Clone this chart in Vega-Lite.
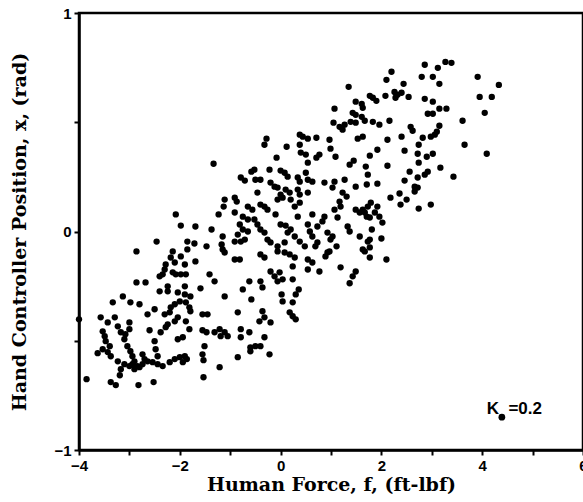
{
"$schema":"https://vega.github.io/schema/vega-lite/v6.json",
"width":504,"height":437,
"autosize":{"type":"none"},
"padding":{"left":79,"top":13,"right":0,"bottom":52},
"background":"white",
"config":{"view":{"stroke":"black","strokeWidth":2.5},
"axis":{"domainColor":"black","domainWidth":2.5,"tickColor":"black","tickWidth":2,"tickSize":5,"grid":false,"labelFont":"Liberation Sans","labelFontWeight":"bold","labelFontSize":15,"labelColor":"black","labelFlush":false,"titleFont":"DejaVu Serif","titleFontWeight":"bold","titleFontSize":19,"titleColor":"black"}},
"layer":[
{"data":{"values":[
{"f":-4.00,"p":-0.402},{"f":-3.85,"p":-0.676},{"f":-3.63,"p":-0.557},{"f":-3.57,"p":-0.393},{"f":-3.53,"p":-0.457},{"f":-3.53,"p":-0.539},{"f":-3.49,"p":-0.479},{"f":-3.47,"p":-0.502},{"f":-3.43,"p":-0.416},{"f":-3.43,"p":-0.552},
{"f":-3.39,"p":-0.525},{"f":-3.37,"p":-0.571},{"f":-3.37,"p":-0.689},{"f":-3.33,"p":-0.324},{"f":-3.29,"p":-0.393},{"f":-3.27,"p":-0.703},{"f":-3.23,"p":-0.434},{"f":-3.23,"p":-0.594},{"f":-3.19,"p":-0.658},{"f":-3.17,"p":-0.461},
{"f":-3.17,"p":-0.630},{"f":-3.13,"p":-0.297},{"f":-3.10,"p":-0.493},{"f":-3.10,"p":-0.607},{"f":-3.08,"p":-0.470},{"f":-3.04,"p":-0.525},{"f":-3.00,"p":-0.416},{"f":-3.00,"p":-0.447},{"f":-3.00,"p":-0.616},{"f":-2.98,"p":-0.324},
{"f":-2.98,"p":-0.548},{"f":-2.94,"p":-0.571},{"f":-2.94,"p":-0.607},{"f":-2.90,"p":-0.594},{"f":-2.90,"p":-0.630},{"f":-2.86,"p":-0.091},{"f":-2.86,"p":-0.233},{"f":-2.84,"p":-0.616},{"f":-2.82,"p":-0.703},{"f":-2.80,"p":-0.333},
{"f":-2.80,"p":-0.621},{"f":-2.74,"p":-0.562},{"f":-2.74,"p":-0.607},{"f":-2.70,"p":-0.584},{"f":-2.68,"p":-0.233},{"f":-2.64,"p":-0.379},{"f":-2.64,"p":-0.594},{"f":-2.60,"p":-0.452},{"f":-2.54,"p":-0.598},{"f":-2.52,"p":-0.689},
{"f":-2.50,"p":-0.356},{"f":-2.50,"p":-0.502},{"f":-2.48,"p":-0.539},{"f":-2.46,"p":-0.046},{"f":-2.44,"p":-0.571},{"f":-2.44,"p":-0.607},{"f":-2.40,"p":-0.205},{"f":-2.40,"p":-0.274},{"f":-2.38,"p":-0.461},{"f":-2.34,"p":-0.196},
{"f":-2.34,"p":-0.616},{"f":-2.30,"p":-0.174},{"f":-2.30,"p":-0.379},{"f":-2.28,"p":-0.151},{"f":-2.28,"p":-0.438},{"f":-2.24,"p":-0.251},{"f":-2.24,"p":-0.274},{"f":-2.24,"p":-0.425},{"f":-2.20,"p":-0.370},{"f":-2.20,"p":-0.598},
{"f":-2.18,"p":-0.119},{"f":-2.18,"p":-0.347},{"f":-2.14,"p":-0.091},{"f":-2.14,"p":-0.187},{"f":-2.10,"p":-0.142},{"f":-2.10,"p":-0.333},{"f":-2.10,"p":-0.411},{"f":-2.10,"p":-0.584},{"f":-2.08,"p":0.078},{"f":-2.08,"p":-0.196},
{"f":-2.04,"p":-0.279},{"f":-2.04,"p":-0.393},{"f":-2.04,"p":-0.493},{"f":-2.00,"p":-0.320},{"f":-2.00,"p":-0.575},{"f":-1.98,"p":0.027},{"f":-1.98,"p":-0.114},{"f":-1.98,"p":-0.196},{"f":-1.94,"p":-0.484},{"f":-1.94,"p":-0.598},
{"f":-1.90,"p":-0.151},{"f":-1.90,"p":-0.251},{"f":-1.90,"p":-0.288},{"f":-1.90,"p":-0.571},{"f":-1.88,"p":-0.196},{"f":-1.88,"p":-0.324},{"f":-1.88,"p":-0.411},{"f":-1.86,"p":-0.584},{"f":-1.85,"p":-0.046},{"f":-1.85,"p":-0.082},
{"f":-1.81,"p":-0.347},{"f":-1.81,"p":-0.447},{"f":-1.79,"p":-0.297},{"f":-1.79,"p":-0.365},{"f":-1.71,"p":-0.055},{"f":-1.69,"p":0.023},{"f":-1.69,"p":-0.137},{"f":-1.59,"p":-0.260},{"f":-1.55,"p":-0.379},{"f":-1.55,"p":-0.452},
{"f":-1.55,"p":-0.562},{"f":-1.53,"p":-0.667},{"f":-1.51,"p":-0.525},{"f":-1.53,"p":-0.589},{"f":-1.47,"p":-0.068},{"f":-1.45,"p":-0.379},{"f":-1.47,"p":-0.461},{"f":-1.41,"p":-0.196},{"f":-1.37,"p":0.009},{"f":-1.33,"p":0.310},
{"f":-1.31,"p":-0.228},{"f":-1.31,"p":-0.461},{"f":-1.23,"p":0.078},{"f":-1.21,"p":-0.447},{"f":-1.21,"p":-0.621},{"f":-1.19,"p":-0.479},{"f":-1.17,"p":-0.059},{"f":-1.15,"p":-0.023},{"f":-1.15,"p":-0.082},{"f":-1.13,"p":0.114},
{"f":-1.11,"p":0.146},{"f":-1.11,"p":-0.297},{"f":-1.11,"p":-0.461},{"f":-1.11,"p":-0.096},{"f":-1.05,"p":-0.479},{"f":-0.91,"p":0.155},{"f":-0.91,"p":0.087},{"f":-0.91,"p":-0.046},{"f":-0.91,"p":-0.128},{"f":-0.87,"p":0.137},
{"f":-0.85,"p":-0.014},{"f":-0.85,"p":-0.370},{"f":-0.85,"p":-0.575},{"f":-0.81,"p":0.032},{"f":-0.81,"p":-0.128},{"f":-0.79,"p":0.247},{"f":-0.79,"p":-0.447},{"f":-0.79,"p":-0.484},{"f":-0.79,"p":-0.046},{"f":-0.75,"p":0.068},
{"f":-0.75,"p":0.009},{"f":-0.75,"p":-0.265},{"f":-0.71,"p":0.233},{"f":-0.71,"p":-0.037},{"f":-0.65,"p":0.114},{"f":-0.65,"p":0.055},{"f":-0.65,"p":0.000},{"f":-0.62,"p":-0.228},{"f":-0.62,"p":-0.461},{"f":-0.60,"p":-0.530},
{"f":-0.60,"p":-0.548},{"f":-0.58,"p":-0.311},{"f":-0.58,"p":0.274},{"f":-0.56,"p":0.100},{"f":-0.52,"p":0.283},{"f":-0.52,"p":0.055},{"f":-0.50,"p":0.237},{"f":-0.50,"p":-0.525},{"f":-0.46,"p":0.178},{"f":-0.46,"p":0.032},
{"f":-0.42,"p":-0.411},{"f":-0.40,"p":0.237},{"f":-0.40,"p":0.123},{"f":-0.40,"p":0.009},{"f":-0.40,"p":-0.105},{"f":-0.40,"p":-0.228},{"f":-0.40,"p":-0.525},{"f":-0.36,"p":-0.256},{"f":-0.36,"p":-0.365},{"f":-0.32,"p":0.397},
{"f":-0.32,"p":0.114},{"f":-0.32,"p":-0.005},{"f":-0.32,"p":-0.119},{"f":-0.32,"p":-0.393},{"f":-0.32,"p":-0.484},{"f":-0.28,"p":0.425},{"f":-0.26,"p":0.100},{"f":-0.26,"p":-0.037},{"f":-0.22,"p":0.283},{"f":-0.22,"p":-0.562},
{"f":-0.20,"p":0.224},{"f":-0.20,"p":-0.050},{"f":-0.20,"p":-0.183},{"f":-0.20,"p":-0.416},{"f":-0.12,"p":0.205},{"f":-0.12,"p":-0.205},{"f":-0.10,"p":0.078},{"f":-0.08,"p":0.338},{"f":-0.06,"p":0.201},{"f":-0.06,"p":0.146},
{"f":-0.06,"p":-0.068},{"f":-0.06,"p":-0.091},{"f":-0.06,"p":-0.228},{"f":-0.02,"p":-0.187},{"f":0.00,"p":0.279},{"f":0.00,"p":0.169},{"f":0.00,"p":0.032},{"f":0.02,"p":-0.288},{"f":0.04,"p":0.155},{"f":0.04,"p":-0.219},
{"f":0.04,"p":-0.320},{"f":0.08,"p":0.269},{"f":0.08,"p":-0.050},{"f":0.08,"p":-0.096},{"f":0.10,"p":0.027},{"f":0.12,"p":0.388},{"f":0.10,"p":0.192},{"f":0.14,"p":0.251},{"f":0.14,"p":-0.005},{"f":0.18,"p":0.178},
{"f":0.18,"p":-0.105},{"f":0.18,"p":-0.370},{"f":0.20,"p":0.146},{"f":0.20,"p":0.009},{"f":0.24,"p":-0.160},{"f":0.24,"p":-0.219},{"f":0.24,"p":-0.324},{"f":0.24,"p":-0.388},{"f":0.28,"p":0.114},{"f":0.28,"p":-0.023},
{"f":0.28,"p":-0.119},{"f":0.30,"p":-0.288},{"f":0.30,"p":-0.402},{"f":0.34,"p":0.247},{"f":0.34,"p":0.192},{"f":0.34,"p":0.068},{"f":0.36,"p":-0.265},{"f":0.38,"p":0.443},{"f":0.38,"p":0.397},{"f":0.38,"p":0.228},
{"f":0.38,"p":0.169},{"f":0.38,"p":0.132},{"f":0.38,"p":-0.046},{"f":0.40,"p":0.361},{"f":0.44,"p":0.434},{"f":0.48,"p":-0.068},{"f":0.50,"p":0.352},{"f":0.50,"p":0.269},{"f":0.54,"p":0.425},{"f":0.54,"p":0.315},
{"f":0.54,"p":0.237},{"f":0.54,"p":0.178},{"f":0.54,"p":0.032},{"f":0.54,"p":-0.128},{"f":0.54,"p":-0.174},{"f":0.58,"p":0.000},{"f":0.63,"p":0.228},{"f":0.63,"p":0.078},{"f":0.63,"p":-0.023},{"f":0.63,"p":-0.142},
{"f":0.69,"p":-0.068},{"f":0.71,"p":0.429},{"f":0.71,"p":0.338},{"f":0.73,"p":0.023},{"f":0.73,"p":-0.050},{"f":0.77,"p":0.352},{"f":0.77,"p":-0.183},{"f":0.83,"p":0.046},{"f":0.87,"p":0.224},{"f":0.87,"p":0.068},
{"f":0.89,"p":-0.114},{"f":0.93,"p":-0.005},{"f":0.93,"p":-0.096},{"f":0.97,"p":0.420},{"f":0.99,"p":0.379},{"f":0.99,"p":-0.037},{"f":0.97,"p":-0.091},{"f":1.03,"p":0.201},{"f":1.05,"p":0.498},{"f":1.07,"p":0.562},
{"f":1.07,"p":0.228},{"f":1.07,"p":0.100},{"f":1.09,"p":0.342},{"f":1.11,"p":-0.068},{"f":1.03,"p":-0.023},{"f":1.13,"p":0.064},{"f":1.17,"p":0.479},{"f":1.17,"p":0.137},{"f":1.19,"p":0.114},{"f":1.19,"p":-0.164},
{"f":1.23,"p":0.466},{"f":1.23,"p":0.178},{"f":1.27,"p":0.489},{"f":1.27,"p":0.237},{"f":1.31,"p":0.160},{"f":1.33,"p":0.023},{"f":1.35,"p":0.662},{"f":1.37,"p":0.306},{"f":1.37,"p":0.000},{"f":1.37,"p":-0.237},
{"f":1.39,"p":0.502},{"f":1.43,"p":0.543},{"f":1.43,"p":-0.205},{"f":1.45,"p":0.324},{"f":1.49,"p":0.594},{"f":1.49,"p":0.534},{"f":1.49,"p":0.498},{"f":1.49,"p":0.205},{"f":1.49,"p":0.100},{"f":1.49,"p":-0.183},
{"f":1.57,"p":0.087},{"f":1.57,"p":-0.023},{"f":1.53,"p":0.425},{"f":1.61,"p":0.584},{"f":1.61,"p":0.525},{"f":1.63,"p":0.566},{"f":1.63,"p":0.434},{"f":1.63,"p":0.100},{"f":1.63,"p":-0.082},{"f":1.67,"p":0.507},
{"f":1.67,"p":0.087},{"f":1.67,"p":-0.091},{"f":1.69,"p":0.297},{"f":1.71,"p":0.215},{"f":1.71,"p":0.068},{"f":1.73,"p":0.260},{"f":1.73,"p":0.114},{"f":1.73,"p":-0.046},{"f":1.77,"p":0.621},{"f":1.77,"p":0.347},
{"f":1.77,"p":0.064},{"f":1.77,"p":-0.037},{"f":1.77,"p":-0.073},{"f":1.77,"p":-0.119},{"f":1.79,"p":0.132},{"f":1.81,"p":0.009},{"f":1.83,"p":0.612},{"f":1.83,"p":0.502},{"f":1.87,"p":0.087},{"f":1.90,"p":0.598},
{"f":1.92,"p":0.374},{"f":1.92,"p":0.219},{"f":1.92,"p":0.114},{"f":1.96,"p":0.489},{"f":1.96,"p":0.068},{"f":2.00,"p":-0.032},{"f":2.02,"p":0.041},{"f":2.08,"p":0.621},{"f":2.10,"p":0.694},{"f":2.10,"p":-0.128},
{"f":2.12,"p":0.420},{"f":2.12,"p":0.301},{"f":2.16,"p":0.507},{"f":2.18,"p":0.155},{"f":2.20,"p":0.731},{"f":2.26,"p":0.639},{"f":2.28,"p":0.612},{"f":2.32,"p":0.626},{"f":2.36,"p":0.174},{"f":2.38,"p":0.123},
{"f":2.40,"p":0.635},{"f":2.40,"p":0.434},{"f":2.44,"p":0.676},{"f":2.46,"p":0.370},{"f":2.46,"p":0.233},{"f":2.50,"p":0.146},{"f":2.54,"p":0.616},{"f":2.56,"p":0.274},{"f":2.58,"p":0.479},{"f":2.62,"p":0.461},
{"f":2.66,"p":0.205},{"f":2.66,"p":0.183},{"f":2.72,"p":0.356},{"f":2.72,"p":0.247},{"f":2.72,"p":0.201},{"f":2.74,"p":0.397},{"f":2.74,"p":0.315},{"f":2.74,"p":0.105},{"f":2.80,"p":0.708},{"f":2.82,"p":0.429},
{"f":2.86,"p":0.763},{"f":2.86,"p":0.607},{"f":2.86,"p":0.260},{"f":2.90,"p":0.342},{"f":2.92,"p":0.539},{"f":2.92,"p":0.274},{"f":2.98,"p":0.434},{"f":2.98,"p":0.123},{"f":3.02,"p":0.708},{"f":3.02,"p":0.594},
{"f":3.02,"p":0.539},{"f":3.02,"p":0.356},{"f":3.06,"p":0.443},{"f":3.10,"p":0.457},{"f":3.12,"p":0.749},{"f":3.15,"p":0.676},{"f":3.15,"p":0.562},{"f":3.15,"p":0.484},{"f":3.17,"p":0.292},{"f":3.27,"p":0.776},
{"f":3.29,"p":0.562},{"f":3.39,"p":0.772},{"f":3.43,"p":0.251},{"f":3.61,"p":0.507},{"f":3.65,"p":0.397},{"f":3.91,"p":0.708},{"f":3.95,"p":0.616},{"f":4.05,"p":0.543},{"f":4.09,"p":0.356},{"f":4.19,"p":0.616},
{"f":4.33,"p":0.671}
]},
"mark":{"type":"point","filled":true,"shape":"circle","size":40,"color":"black","opacity":1},
"encoding":{
"x":{"field":"f","type":"quantitative","scale":{"domain":[-4,6],"nice":false,"zero":false},
"axis":{"title":"Human Force, f, (ft-lbf)","format":"d","values":[-4,-3,-2,-1,0,1,2,3,4,5,6],"labelExpr":"datum.value % 2 == 0 ? datum.label : ''","labelPadding":3,"titlePadding":2}},
"y":{"field":"p","type":"quantitative","scale":{"domain":[-1,1],"nice":false,"zero":false},
"axis":{"title":"Hand Controller Position, x, (rad)","format":".1~f","values":[-1,-0.5,0,0.5,1],"labelExpr":"datum.value % 1 == 0 ? datum.label : ''","labelPadding":3,"titlePadding":24}}}},
{"data":{"values":[{"f":4.09,"p":-0.813,"t":"K"},{"f":4.52,"p":-0.813,"t":"=0.2"}]},
"mark":{"type":"text","align":"left","baseline":"middle","font":"Liberation Sans","fontWeight":"bold","fontSize":17,"color":"black"},
"encoding":{"x":{"field":"f","type":"quantitative"},"y":{"field":"p","type":"quantitative"},"text":{"field":"t"}}},
{"data":{"values":[{"f":4.39,"p":-0.85}]},
"mark":{"type":"point","filled":true,"shape":"circle","size":45,"color":"black","opacity":1},
"encoding":{"x":{"field":"f","type":"quantitative"},"y":{"field":"p","type":"quantitative"}}}
]
}
